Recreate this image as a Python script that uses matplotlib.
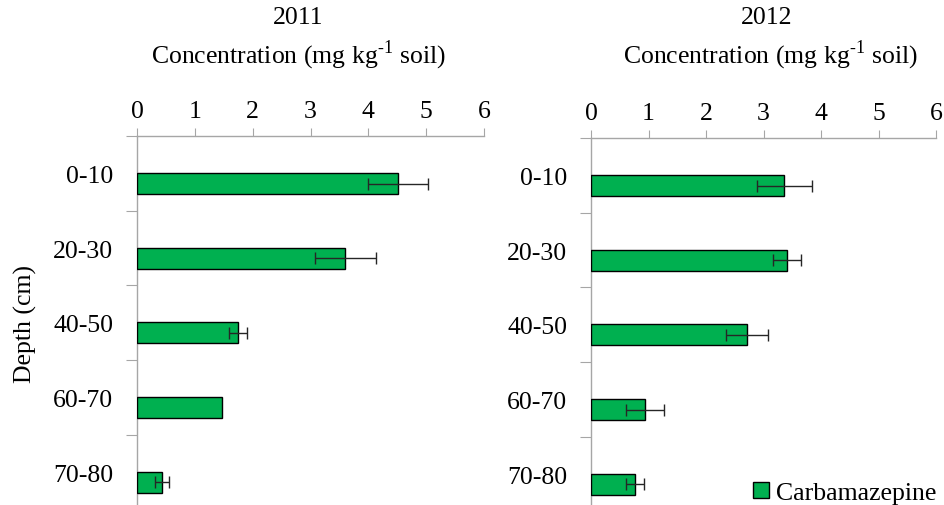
import matplotlib
matplotlib.use("Agg")
import matplotlib.pyplot as plt
import numpy as np

plt.rcParams['font.family'] = ['Liberation Serif', 'DejaVu Serif']
plt.rcParams['mathtext.fontset'] = 'custom'
plt.rcParams['mathtext.rm'] = 'Liberation Serif'

depths = ['0-10', '20-30', '40-50', '60-70', '70-80']
conc_2011 = [4.52, 3.60, 1.75, 1.47, 0.43]
err_2011 = [0.52, 0.53, 0.16, 0.0, 0.12]
conc_2012 = [3.36, 3.41, 2.71, 0.94, 0.77]
err_2012 = [0.48, 0.24, 0.37, 0.33, 0.16]
years = ['2011', '2012']

GREEN = '#00B050'
AXIS = '#A6A6A6'
FS = 18.5

fig = plt.figure(figsize=(9.44, 5.06), dpi=100)
W, H = 944, 506

def px_axes(x0, x1, y0, y1):
    # pixel box (left, right, top, bottom) -> figure fraction
    return fig.add_axes([x0 / W, 1 - y1 / H, (x1 - x0) / W, (y1 - y0) / H])

ax1 = px_axes(137, 484, 137, 510.5)
ax2 = px_axes(591, 936, 139, 512.5)

pos = np.arange(len(depths))
handles = None
for ax, vals, errs in [(ax1, conc_2011, err_2011), (ax2, conc_2012, err_2012)]:
    bars = ax.barh(pos + 0.136, vals, height=0.28, color=GREEN,
                   edgecolor='black', linewidth=1.0, zorder=3,
                   label='Carbamazepine')
    errs = np.array(errs)
    m = errs > 0
    ax.errorbar(np.array(vals)[m], (pos + 0.136)[m], xerr=errs[m], fmt='none',
                ecolor='#262626', elinewidth=1.0, capsize=4.5, capthick=1.0,
                zorder=4)
    handles = bars
    ax.set_xlim(0, 6)
    ax.set_ylim(4.5, -0.5)
    ax.xaxis.tick_top()
    ax.set_xticks(range(7))
    ax.tick_params(axis='x', direction='out', length=6, color=AXIS,
                   labelsize=FS, pad=4)
    ax.set_yticks(np.arange(-0.5, 5, 1), minor=False)
    ax.set_yticklabels([])
    ax.set_yticks(pos, minor=True)
    ax.set_yticklabels(depths, minor=True)
    ax.tick_params(axis='y', which='major', direction='out', length=8,
                   color=AXIS)
    ax.tick_params(axis='y', which='minor', length=0, labelsize=FS, pad=17)
    for s in ['right', 'bottom']:
        ax.spines[s].set_visible(False)
    for s in ['left', 'top']:
        ax.spines[s].set_color(AXIS)
        ax.spines[s].set_linewidth(1.0)
    ax.patch.set_alpha(0)

ax1.set_ylabel('Depth (cm)', fontsize=FS)
ax1.yaxis.set_label_coords((37 - 137) / 347, 0.5)

# panel headings
unit = r'Concentration (mg kg$^{\text{-1}}$ soil)'
fig.text(298 / W, 1 - 18 / H, years[0], ha='center', va='center', fontsize=FS)
fig.text(299 / W, 1 - 55 / H, unit, ha='center', va='center', fontsize=FS)
fig.text(767 / W, 1 - 18 / H, years[1], ha='center', va='center', fontsize=FS)
fig.text(771 / W, 1 - 55 / H, unit, ha='center', va='center', fontsize=FS)

fig.legend(handles=[handles], loc='lower right',
           bbox_to_anchor=(942 / W, -4 / H), frameon=False, fontsize=FS,
           handlelength=0.6, handleheight=0.6, handletextpad=0.3,
           borderaxespad=0.0, borderpad=0.2)

fig.savefig('out.png', dpi=100)
